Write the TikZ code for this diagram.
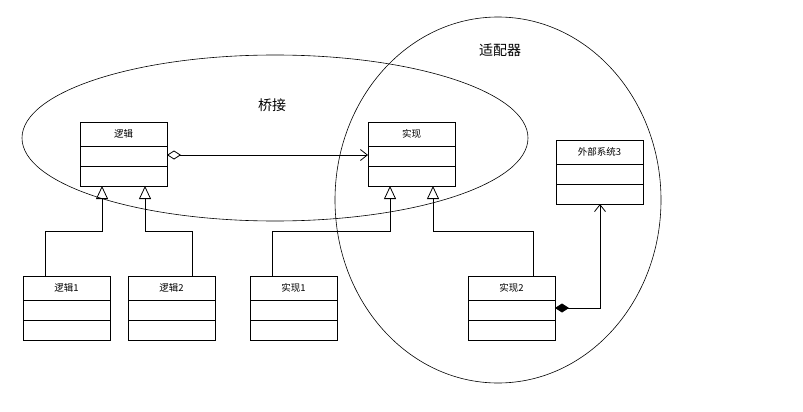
\documentclass[tikz,border=0pt]{standalone}
\usepackage{fontspec}
\newfontfamily\cjk{Noto Sans CJK SC}
\usetikzlibrary{arrows.meta}
\begin{document}
\begin{tikzpicture}[x=1pt,y=-1pt,line width=0.8pt,
  lbl/.style={font=\cjk\fontsize{9.5}{10}\selectfont},
  inh/.style={-{Triangle[open,length=13pt,width=12pt]}},
  agg/.style={{Diamond[open,length=14pt,width=9pt]}-{Straight Barb[length=7pt,width=11pt]}},
  comp/.style={{Diamond[length=14pt,width=9pt]}-{Straight Barb[length=7pt,width=11pt]}}]
\useasboundingbox (0,0) rectangle (803,412);
\newcommand{\umlbox}[4]{%
  \draw (#1,#2) rectangle +(87,64);
  \draw (#1,#2+24) -- +(87,0); \draw (#1,#2+44) -- +(87,0);
  \node[lbl] at (#1+43.5,#2+12) {#3};
  \coordinate (#4) at (#1,#2);}
\draw[line width=0.6pt] (275,138) ellipse [x radius=253, y radius=83];
\draw[line width=0.6pt] (498,200) ellipse [x radius=163, y radius=183];
\node[font=\cjk\fontsize{14}{16}\selectfont] (t1) at (272,105) {桥接};
\node[font=\cjk\fontsize{14}{16}\selectfont] (t2) at (500,50) {适配器};
\umlbox{80}{122}{逻辑}{L}
\umlbox{368}{122}{实现}{I}
\umlbox{23}{276}{逻辑1}{L1}
\umlbox{128}{276}{逻辑2}{L2}
\umlbox{250}{276}{实现1}{I1}
\umlbox{468}{276}{实现2}{I2}
\umlbox{556}{140}{外部系统3}{E}
\draw[inh] ([xshift=22pt]L1) |- ++(57,-45) -- ([xshift=22pt,yshift=-64pt]L);
\draw[inh] ([xshift=64pt]L2) |- ++(-47,-45) -- ([xshift=65pt,yshift=-64pt]L);
\draw[inh] ([xshift=22pt]I1) |- ++(118,-45) -- ([xshift=22pt,yshift=-64pt]I);
\draw[inh] ([xshift=65pt]I2) |- ++(-100,-45) -- ([xshift=65pt,yshift=-64pt]I);
\draw[agg] ([xshift=87pt,yshift=-33pt]L) -- ([yshift=-33pt]I);
\draw[comp] ([xshift=87pt,yshift=-32pt]I2) -| ([xshift=44pt,yshift=-64pt]E);
\end{tikzpicture}
\end{document}
